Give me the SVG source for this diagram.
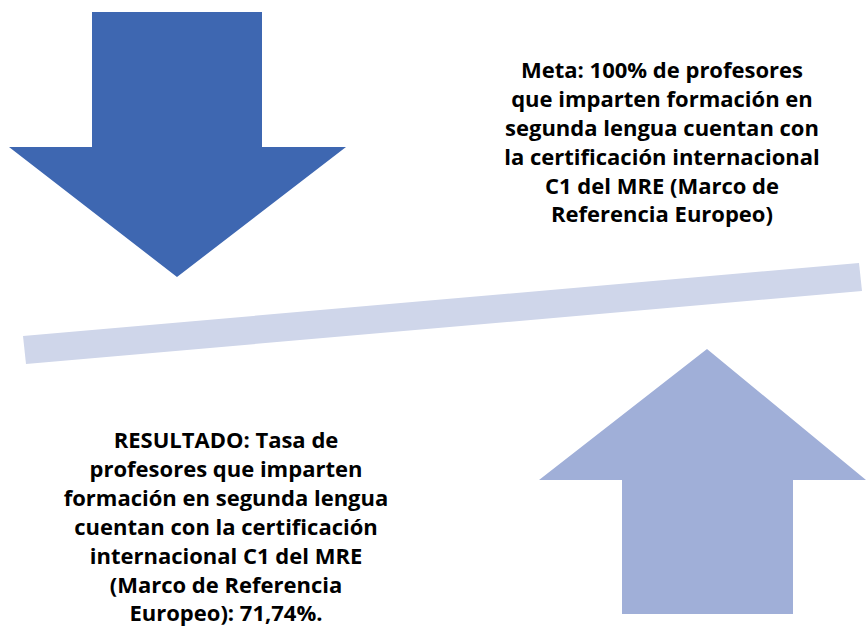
<svg xmlns="http://www.w3.org/2000/svg" width="866" height="628" viewBox="0 0 866 628">
<style>
.t{font-family:"Open Sans","Liberation Sans",Arial,sans-serif;font-weight:bold;font-size:22px;fill:#000;text-anchor:middle}
</style>
<rect width="866" height="628" fill="#fff"/>
<g id="down-arrow"><polygon points="92,12 262,12 262,147 346,147 177,277 9,147 92,147" fill="#3E67B1"/></g>
<g id="bar"><polygon points="23,336 859,263 862,291 26,364" fill="#CFD6EA"/></g>
<g id="up-arrow"><polygon points="707,349 866,480 793,480 793,614 622,614 622,480 539,480" fill="#A0AFD8"/></g>
<g id="meta">
<text class="t" x="662" y="78">Meta: 100% de profesores</text>
<text class="t" x="662" y="107">que imparten formación en</text>
<text class="t" x="662" y="136">segunda lengua cuentan con</text>
<text class="t" x="662" y="165">la certificación internacional</text>
<text class="t" x="662" y="194">C1 del MRE (Marco de</text>
<text class="t" x="662" y="222">Referencia Europeo)</text>
</g>
<g id="resultado">
<text class="t" x="226" y="448">RESULTADO: Tasa de</text>
<text class="t" x="226" y="477">profesores que imparten</text>
<text class="t" x="226" y="506">formación en segunda lengua</text>
<text class="t" x="226" y="535">cuentan con la certificación</text>
<text class="t" x="226" y="564">internacional C1 del MRE</text>
<text class="t" x="226" y="593">(Marco de Referencia</text>
<text class="t" x="226" y="621">Europeo): 71,74%.</text>
</g>
</svg>
